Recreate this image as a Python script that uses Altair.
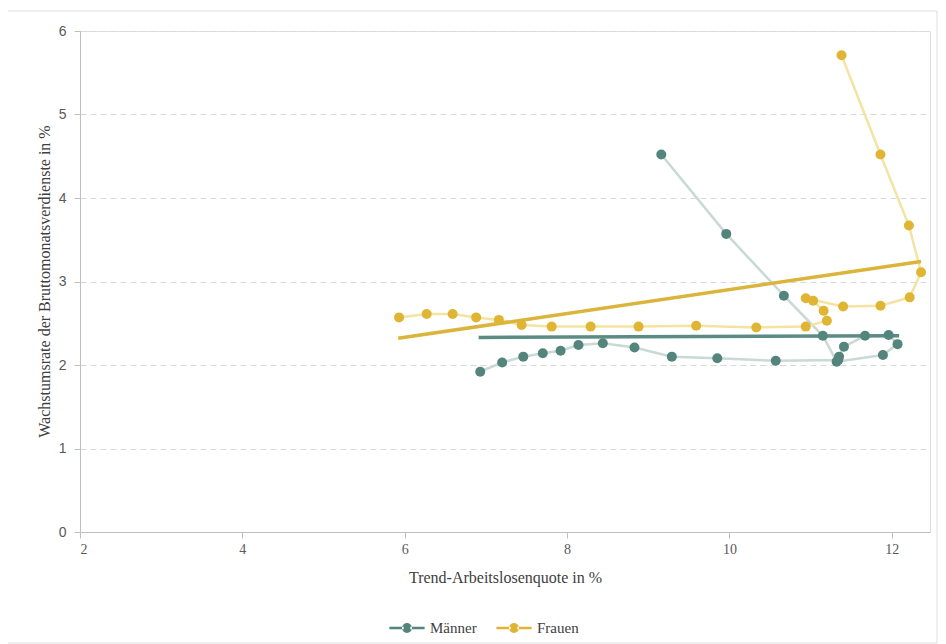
import altair as alt
import pandas as pd

# ---- data (path order) ----
m_x = [9.16, 9.96, 10.67, 11.15, 11.32, 11.89, 12.07, 11.96, 11.67, 11.41, 11.35, 11.34,
       10.57, 9.85, 9.29, 8.83, 8.44, 8.14, 7.92, 7.70, 7.46, 7.20, 6.93]
m_y = [4.52, 3.57, 2.83, 2.35, 2.04, 2.12, 2.25, 2.36, 2.35, 2.22, 2.10, 2.06,
       2.05, 2.08, 2.10, 2.21, 2.26, 2.24, 2.17, 2.14, 2.10, 2.03, 1.92]

f_x = [5.93, 6.27, 6.59, 6.88, 7.16, 7.44, 7.81, 8.29, 8.88, 9.59, 10.33, 10.94,
       11.20, 11.16, 11.03, 10.94, 11.40, 11.86, 12.22, 12.36, 12.21, 11.86, 11.38]
f_y = [2.57, 2.61, 2.61, 2.57, 2.54, 2.48, 2.46, 2.46, 2.46, 2.47, 2.45, 2.46,
       2.53, 2.65, 2.77, 2.80, 2.70, 2.71, 2.81, 3.11, 3.67, 4.52, 5.71]

# trend lines (end points)
m_trend_x = [6.91, 12.09]
m_trend_y = [2.33, 2.35]
f_trend_x = [5.92, 12.36]
f_trend_y = [2.32, 3.24]

series_names = ["Männer", "Frauen"]
dot_colors = ["#54857c", "#e0b534"]
path_colors = ["#c9d9d5", "#f4e3a2"]
trend_colors = ["#5b8c84", "#dbb43c"]

pts = pd.DataFrame({
    "x": m_x + f_x,
    "y": m_y + f_y,
    "s": ["Männer"] * len(m_x) + ["Frauen"] * len(f_x),
    "o": list(range(len(m_x))) + list(range(len(f_x))),
})
trend = pd.DataFrame({
    "x": m_trend_x + f_trend_x,
    "y": m_trend_y + f_trend_y,
    "s": ["Männer"] * 2 + ["Frauen"] * 2,
})

xs = alt.Scale(domain=[2, 12.47], nice=False, zero=False)
ys = alt.Scale(domain=[0, 6], nice=False)

X = alt.X("x:Q", scale=xs, axis=alt.Axis(
    title="Trend-Arbeitslosenquote in %", values=[2, 4, 6, 8, 10, 12], grid=False,
    domainColor="#bfbfbf", tickColor="#bfbfbf", tickSize=6, labelColor="#595959",
    labelFont="Liberation Sans Narrow", labelFontSize=14, labelPadding=4,
    titleFont="Liberation Serif", titleFontSize=16, titleFontWeight="normal",
    titleColor="#404040", titlePadding=13))
Y = alt.Y("y:Q", scale=ys, axis=alt.Axis(
    title="Wachstumsrate der Bruttomonatsverdienste in %", values=[0, 1, 2, 3, 4, 5, 6],
    grid=True, gridDash=[6, 4], gridColor="#d9d9d9", domainColor="#bfbfbf",
    tickColor="#bfbfbf", tickSize=6, labelColor="#595959",
    labelFont="Liberation Sans", labelFontSize=14, labelPadding=8,
    titleFont="Liberation Serif", titleFontSize=16, titleFontWeight="normal",
    titleColor="#404040", titleX=-36, titleY=250, titleBaseline="middle"))

frame = alt.Chart(pd.DataFrame({"a": [0]})).mark_rect(
    fillOpacity=0, stroke="#dedede", strokeWidth=1, clip=False).encode(
    x=alt.value(-75), x2=alt.value(857), y=alt.value(-20), y2=alt.value(612))

layers = [frame]
for name, pc in zip(series_names, path_colors):
    layers.append(
        alt.Chart(pts).transform_filter(alt.datum.s == name)
        .mark_line(color=pc, strokeWidth=2.5)
        .encode(x=X, y=Y, order="o:Q"))

for name, tc in zip(series_names, trend_colors):
    layers.append(
        alt.Chart(trend).transform_filter(alt.datum.s == name)
        .mark_line(color=tc, strokeWidth=3.5)
        .encode(x=X, y=Y))

legend_symbol = ("M-1.6,-0.11H-0.3V0.11H-1.6Z "
                 "M0.3,-0.11H1.6V0.11H0.3Z "
                 "M-0.45,0a0.45,0.45 0 1,0 0.9,0a0.45,0.45 0 1,0 -0.9,0Z")

layers.append(
    alt.Chart(pts).mark_circle(size=100, opacity=1).encode(
        x=X, y=Y,
        color=alt.Color("s:N", scale=alt.Scale(domain=series_names, range=dot_colors),
                        legend=alt.Legend(
                            title=None, orient="none", direction="horizontal",
                            legendX=315, legendY=585, symbolType=legend_symbol,
                            symbolSize=484, symbolOpacity=1, labelFont="Liberation Serif",
                            labelFontSize=15, labelColor="#404040", columnPadding=19,
                            labelOffset=11))))

chart = alt.layer(*layers).properties(
    width=850, height=501,
    autosize=alt.AutoSizeParams(type="none"),
    padding={"left": 72, "top": 23, "right": 8, "bottom": 112},
).configure_view(stroke=None).configure(background="white").configure_legend(
    labelFont="Liberation Serif", labelFontSize=15)

chart.save("out.html", embed_options={"renderer": "svg", "actions": False})
